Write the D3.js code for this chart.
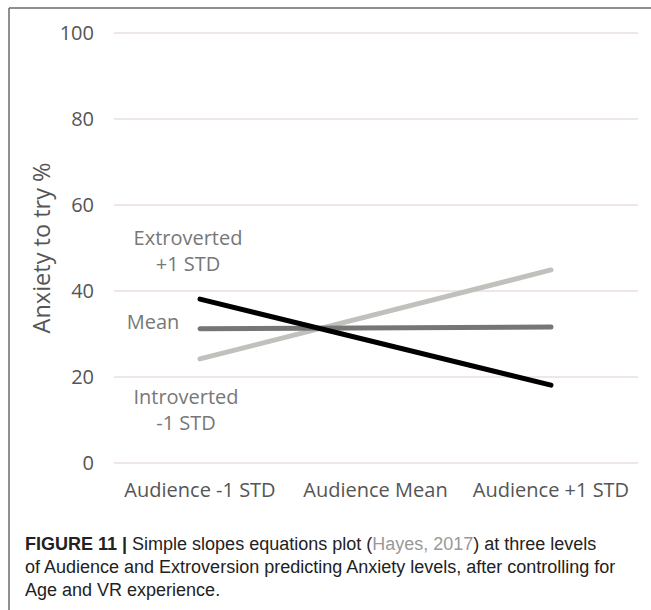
<!DOCTYPE html>
<html>
<head>
<meta charset="utf-8">
<script src="https://cdn.jsdelivr.net/npm/d3@7"></script>
<style>
  body { margin: 0; background: #fff; }
  svg { display: block; }
</style>
</head>
<body>
<div id="chart-area"></div>
<script>
// data
var levels = ["Audience -1 STD", "Audience Mean", "Audience +1 STD"];
var extroverted = [24.2, null, 44.9];
var meanLine = [31.2, null, 31.6];
var introverted = [38.1, null, 18.1];
var yTicks = [0, 20, 40, 60, 80, 100];

var series = [
    { name: "extro", values: extroverted, color: "#c0c0bd" },
    { name: "mean", values: meanLine, color: "#767676" },
    { name: "intro", values: introverted, color: "#000000" }
];

var W = 651, H = 610;

var svg = d3.select("#chart-area")
    .append("svg")
    .attr("width", W)
    .attr("height", H);

// frame
svg.append("line").attr("x1", 9).attr("x2", W).attr("y1", 8).attr("y2", 8)
    .attr("stroke", "#6a6a6a").attr("stroke-width", 1.5);
svg.append("line").attr("x1", 9).attr("x2", 9).attr("y1", 8).attr("y2", H)
    .attr("stroke", "#6a6a6a").attr("stroke-width", 1.5);

var x = d3.scalePoint().domain(levels).range([200, 551]);
var y = d3.scaleLinear().domain([0, 100]).range([463, 33]);

var font = "'Open Sans', sans-serif";

// gridlines
svg.append("g")
    .selectAll("line")
    .data(yTicks)
    .enter()
    .append("line")
    .attr("x1", 114)
    .attr("x2", 638)
    .attr("y1", d => y(d))
    .attr("y2", d => y(d))
    .attr("stroke", "#eadfdf")
    .attr("stroke-width", 1.5);

// y tick labels
svg.append("g")
    .selectAll("text")
    .data(yTicks)
    .enter()
    .append("text")
    .attr("x", 94)
    .attr("y", d => y(d))
    .attr("dy", "0.35em")
    .attr("text-anchor", "end")
    .attr("font-family", font)
    .attr("font-size", "20px")
    .attr("fill", "#555")
    .text(d => d);

// x labels
svg.append("g")
    .selectAll("text")
    .data(levels)
    .enter()
    .append("text")
    .attr("x", d => x(d))
    .attr("y", 497)
    .attr("text-anchor", "middle")
    .attr("font-family", font)
    .attr("font-size", "20px")
    .attr("fill", "#555")
    .text(d => d);

// y title
svg.append("text")
    .attr("transform", "rotate(-90)")
    .attr("x", -248)
    .attr("y", 50)
    .attr("text-anchor", "middle")
    .attr("font-family", font)
    .attr("font-size", "23.5px")
    .attr("fill", "#555")
    .text("Anxiety to try %");

// lines: only the two end levels have values
var line = d3.line()
    .x(d => x(d.k))
    .y(d => y(d.v));

svg.append("g")
    .selectAll("path")
    .data(series)
    .enter()
    .append("path")
    .attr("d", s => line(levels.map((k, i) => ({ k: k, v: s.values[i] })).filter(d => d.v != null)))
    .attr("fill", "none")
    .attr("stroke", s => s.color)
    .attr("stroke-width", 5)
    .attr("stroke-linecap", "round");

// series labels
var labels = [
    { lines: ["Extroverted", "+1 STD"], x: 188, y: 245 },
    { lines: ["Mean"], x: 153, y: 329 },
    { lines: ["Introverted", "-1 STD"], x: 186, y: 404 }
];

labels.forEach(l => {
    var t = svg.append("text")
        .attr("text-anchor", "middle")
        .attr("font-family", font)
        .attr("font-size", "20px")
        .attr("fill", "#777");
    l.lines.forEach((s, i) => {
        t.append("tspan").attr("x", l.x).attr("y", l.y + i * 26).text(s);
    });
});

// caption
var cap = svg.append("g")
    .attr("font-family", "'Liberation Sans', Arial, sans-serif")
    .attr("font-size", "18px")
    .attr("fill", "#222");

var c1 = cap.append("text").attr("x", 25).attr("y", 550);
c1.append("tspan").attr("font-weight", "bold").text("FIGURE 11 | ");
c1.append("tspan").text("Simple slopes equations plot (");
c1.append("tspan").attr("fill", "#999").text("Hayes, 2017");
c1.append("tspan").text(") at three levels");

cap.append("text").attr("x", 25).attr("y", 573)
    .text("of Audience and Extroversion predicting Anxiety levels, after controlling for");
cap.append("text").attr("x", 25).attr("y", 596)
    .text("Age and VR experience.");
</script>
</body>
</html>
